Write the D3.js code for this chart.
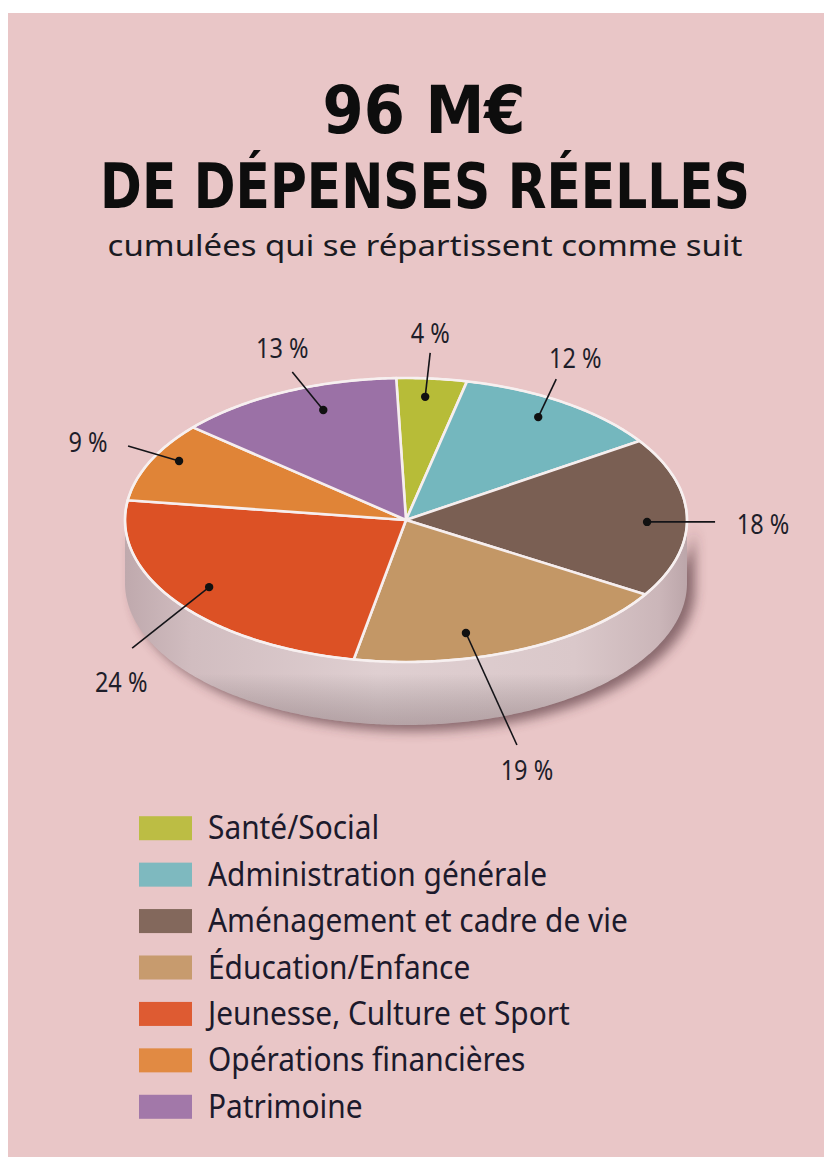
<!DOCTYPE html>
<html><head><meta charset="utf-8">
<script src="https://cdn.jsdelivr.net/npm/d3@7"></script>
<style>html,body{margin:0;padding:0;background:#fff}</style>
</head><body>
<svg id="c" width="824" height="1157"></svg>
<script>
// ---- data ----
const categories = ["Santé/Social","Administration générale","Aménagement et cadre de vie","Éducation/Enfance","Jeunesse, Culture et Sport","Opérations financières","Patrimoine"];
const values = [4,12,18,19,24,9,13];
const valueLabels = ["4 %","12 %","18 %","19 %","24 %","9 %","13 %"];
const colors = ["#b7bc38","#74b7be","#7a5f53","#c39766","#dc5125","#e08437","#9b71a6"];
const titleLines = ["96 M€","DE DÉPENSES RÉELLES"];
const subtitle = "cumulées qui se répartissent comme suit";

// ---- annotation layout (dot angle deg, dot radius fraction, line end dx,dy, label dx,dy) ----
const annot = [
  [4.5,0.87, 5,-44, 5,-54],
  [33,0.864, 18,-38, 37,-49],
  [90.9,0.858, 68,0, 116,12],
  [165,0.824, 51,112, 61,147],
  [236,0.845, -77,61, -88,105],
  [297.2,0.908, -51,-15, -91,-9],
  [339.2,0.829, -31,-38, -41,-52]
];

const svg = d3.select("#c");
const defs = svg.append("defs");
svg.append("rect").attr("x",8).attr("y",13).attr("width",816).attr("height",1144).attr("fill","#e9c6c7");

const cx=406, cy=520, rx=281, ry=142, depth=63;
const pt = (a, r=1) => [cx + rx*r*Math.sin(a), cy - ry*r*Math.cos(a)];
function arcPts(a0,a1,r=1,dy=0){
  const n=Math.max(2,Math.ceil(Math.abs(a1-a0)/0.01));
  return d3.range(n+1).map(i=>{const a=a0+(a1-a0)*i/n; const p=pt(a,r); return [p[0],p[1]+dy];});
}
const line = d3.line();
const off = -2*Math.PI/180;
const pie = d3.pie().sort(null).value(d=>d).startAngle(off).endAngle(2*Math.PI+off);
const arcs = pie(values);

// filters / gradients
const blur = defs.append("filter").attr("id","blur").attr("x","-20%").attr("y","-40%").attr("width","140%").attr("height","180%");
blur.append("feGaussianBlur").attr("stdDeviation",6);
const g1 = defs.append("linearGradient").attr("id","side").attr("x1",0).attr("x2",1).attr("y1",0).attr("y2",0);
[[0,"#bfa9ad"],[0.12,"#d1bdc0"],[0.45,"#dfcfd1"],[0.8,"#dac8ca"],[0.95,"#cbb6b9"],[1,"#bca6aa"]].forEach(s=>g1.append("stop").attr("offset",s[0]).attr("stop-color",s[1]));
const g2 = defs.append("linearGradient").attr("id","sideV").attr("x1",0).attr("x2",0).attr("y1",0).attr("y2",1);
[[0,"#000",0],[0.75,"#000",0],[1,"#3a2228",0.25]].forEach(s=>g2.append("stop").attr("offset",s[0]).attr("stop-color",s[1]).attr("stop-opacity",s[2]));

// shadow
const shadowPts = arcPts(Math.PI/2, 3*Math.PI/2, 1, depth+4).concat(arcPts(3*Math.PI/2, Math.PI/2, 1, 0));
svg.append("path").attr("d", line(shadowPts)+"Z").attr("transform","translate(8,2)")
  .attr("fill","#4a2a32").attr("opacity",0.6).attr("filter","url(#blur)");

// side
const sidePts = arcPts(Math.PI/2, 3*Math.PI/2).concat(arcPts(3*Math.PI/2, Math.PI/2, 1, depth));
svg.append("path").attr("d", line(sidePts)+"Z").attr("fill","url(#side)");
svg.append("path").attr("d", line(sidePts)+"Z").attr("fill","url(#sideV)");

// slices
svg.append("g").selectAll("path").data(arcs).join("path")
  .attr("d", d => "M"+cx+","+cy+"L"+line(arcPts(d.startAngle,d.endAngle)).slice(1)+"Z")
  .attr("fill",(d,i)=>colors[i]).attr("stroke","#f6eeee").attr("stroke-width",2.6).attr("stroke-linejoin","round");
// rim
svg.append("ellipse").attr("cx",cx).attr("cy",cy).attr("rx",rx).attr("ry",ry)
  .attr("fill","none").attr("stroke","#f7f0f0").attr("stroke-width",2.2);

// annotations
const ag = svg.append("g");
arcs.forEach((d,i)=>{
  const a = annot[i];
  const p = pt(a[0]*Math.PI/180, a[1]);
  ag.append("line").attr("x1",p[0]).attr("y1",p[1]).attr("x2",p[0]+a[2]).attr("y2",p[1]+a[3])
    .attr("stroke","#141418").attr("stroke-width",1.6);
  ag.append("circle").attr("cx",p[0]).attr("cy",p[1]).attr("r",4.2).attr("fill","#111");
  ag.append("text").attr("transform",`translate(${p[0]+a[4]},${p[1]+a[5]}) scale(0.84,1)`)
    .attr("text-anchor","middle").attr("font-family","'Noto Sans','Open Sans',sans-serif")
    .attr("font-size",28).attr("fill","#1e1e2a").text(valueLabels[i]);
});

// titles (fit by horizontal scale)
function fitText(str, x, y, w, size, family, weight, fill){
  const t = svg.append("text").attr("text-anchor","middle").attr("font-family",family)
    .attr("font-weight",weight).attr("font-size",size).attr("fill",fill).text(str);
  const len = t.node().getComputedTextLength();
  t.attr("transform",`translate(${x},${y}) scale(${w/len},1)`);
  return t;
}
const condensed = "'Liberation Sans Narrow','DejaVu Sans Condensed','Roboto Condensed','Liberation Sans',sans-serif";
fitText(titleLines[0], 424, 133, 203, 66, condensed, "bold", "#0d0d0d");
fitText(titleLines[1], 425, 208, 650, 62, condensed, "bold", "#0d0d0d");
fitText(subtitle, 425, 256, 635, 30, "'Noto Sans','Open Sans',sans-serif", "normal", "#1a1a22");

// legend
const lg = svg.append("g");
const legY = d3.scaleBand().domain(categories).range([805,1130]).paddingInner(0);
const items = lg.selectAll("g").data(categories).join("g")
  .attr("transform", d => `translate(0,${legY(d)})`);
items.append("rect").attr("x",139).attr("y",(legY.bandwidth()-24)/2).attr("width",53).attr("height",24)
  .attr("fill",(d,i)=>colors[i]).attr("opacity",0.92);
const txt = items.append("text").attr("font-family","'Noto Sans','Open Sans',sans-serif")
  .attr("font-size",32).attr("fill","#1c1a2c").text(d=>d);
const ref = txt.nodes()[2].getComputedTextLength();
const sx = 420/ref;
txt.attr("transform",`translate(208,${legY.bandwidth()/2+11}) scale(${sx},1)`);
</script>
</body></html>
